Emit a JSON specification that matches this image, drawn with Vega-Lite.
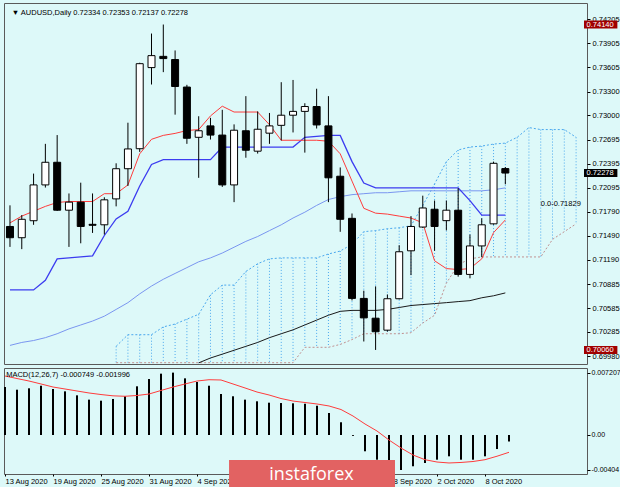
{
 "$schema": "https://vega.github.io/schema/vega-lite/v6.json",
 "background": "#ddf9f9",
 "padding": {"left": 2, "top": 2, "right": 0, "bottom": 0},
 "spacing": 2,
 "config": {
  "view": {"stroke": "#5a5a5a", "strokeWidth": 1},
  "font": "Liberation Sans",
  "axis": {"labelFont": "Liberation Sans", "labelFontSize": 7.5, "labelColor": "#000000", "tickColor": "#000000", "tickSize": 3, "domain": false, "grid": false, "title": null, "labelOverlap": false, "labelFlush": false, "labelBound": false}
 },
 "datasets": {
  "bars": [
   {"i":0,"o":0.71608,"h":0.71873,"l":0.71352,"c":0.71467,"tk":0.71653,"kj":0.70812,"ma":0.70117,"m":0.00554,"s":0.00681},
   {"i":1,"o":0.71467,"h":0.71751,"l":0.71324,"c":0.71698,"tk":0.71738,"kj":0.70812,"ma":0.70154,"m":0.00523,"s":0.00652},
   {"i":2,"o":0.7168,"h":0.72271,"l":0.71629,"c":0.72129,"tk":0.71799,"kj":0.70812,"ma":0.70178,"m":0.00539,"s":0.00623},
   {"i":3,"o":0.72129,"h":0.72644,"l":0.72096,"c":0.72413,"tk":0.7186,"kj":0.70934,"ma":0.70214,"m":0.00569,"s":0.00589},
   {"i":4,"o":0.72413,"h":0.72754,"l":0.71803,"c":0.71812,"tk":0.71909,"kj":0.71202,"ma":0.70263,"m":0.00531,"s":0.00554},
   {"i":5,"o":0.71812,"h":0.72022,"l":0.71352,"c":0.71913,"tk":0.71921,"kj":0.71214,"ma":0.70324,"m":0.00504,"s":0.00531},
   {"i":6,"o":0.71913,"h":0.72157,"l":0.71397,"c":0.71608,"tk":0.71921,"kj":0.71226,"ma":0.70373,"m":0.00458,"s":0.00508},
   {"i":7,"o":0.71635,"h":0.72022,"l":0.71527,"c":0.71623,"tk":0.71921,"kj":0.71239,"ma":0.70422,"m":0.00408,"s":0.00485},
   {"i":8,"o":0.71629,"h":0.71974,"l":0.71507,"c":0.71942,"tk":0.72019,"kj":0.71495,"ma":0.70483,"m":0.00396,"s":0.00467},
   {"i":9,"o":0.71954,"h":0.724,"l":0.7186,"c":0.72332,"tk":0.72019,"kj":0.71702,"ma":0.70568,"m":0.00416,"s":0.00452},
   {"i":10,"o":0.72332,"h":0.72909,"l":0.72116,"c":0.7258,"tk":0.72129,"kj":0.71799,"ma":0.70653,"m":0.00447,"s":0.00447},
   {"i":11,"o":0.72583,"h":0.73661,"l":0.72543,"c":0.73649,"tk":0.72519,"kj":0.72116,"ma":0.70763,"m":0.00562,"s":0.00456},
   {"i":12,"o":0.736,"h":0.74027,"l":0.73388,"c":0.7375,"tk":0.72701,"kj":0.72385,"ma":0.70861,"m":0.00646,"s":0.00473},
   {"i":13,"o":0.73741,"h":0.7414,"l":0.73543,"c":0.73713,"tk":0.7275,"kj":0.72446,"ma":0.70946,"m":0.00708,"s":0.00514},
   {"i":14,"o":0.73701,"h":0.73815,"l":0.7301,"c":0.73363,"tk":0.72775,"kj":0.72446,"ma":0.71019,"m":0.0072,"s":0.00554},
   {"i":15,"o":0.73356,"h":0.73384,"l":0.72644,"c":0.72714,"tk":0.72811,"kj":0.72446,"ma":0.71092,"m":0.00654,"s":0.00589},
   {"i":16,"o":0.72726,"h":0.7299,"l":0.72218,"c":0.72808,"tk":0.72823,"kj":0.72446,"ma":0.71165,"mb":0.69898,"m":0.00612,"s":0.00623},
   {"i":17,"o":0.72869,"h":0.7297,"l":0.72698,"c":0.72754,"tk":0.72994,"kj":0.72446,"ma":0.71214,"mb":0.69959,"m":0.00569,"s":0.00638},
   {"i":18,"o":0.72754,"h":0.73071,"l":0.72104,"c":0.72129,"tk":0.73116,"kj":0.72604,"ma":0.71275,"mb":0.70007,"m":0.00473,"s":0.00635},
   {"i":19,"o":0.72129,"h":0.72888,"l":0.71913,"c":0.72815,"tk":0.73043,"kj":0.72604,"ma":0.71348,"mb":0.70056,"m":0.00447,"s":0.00589},
   {"i":20,"o":0.72808,"h":0.73242,"l":0.7247,"c":0.72564,"tk":0.73043,"kj":0.72604,"ma":0.71421,"mb":0.70105,"m":0.00408,"s":0.00543},
   {"i":21,"o":0.72552,"h":0.73051,"l":0.72522,"c":0.72827,"tk":0.73043,"kj":0.72604,"ma":0.71482,"mb":0.70154,"m":0.00389,"s":0.00496},
   {"i":22,"o":0.72778,"h":0.73031,"l":0.72644,"c":0.72869,"tk":0.72884,"kj":0.72604,"ma":0.71556,"mb":0.70214,"m":0.00373,"s":0.00462},
   {"i":23,"o":0.72876,"h":0.73417,"l":0.72686,"c":0.73003,"tk":0.72689,"kj":0.72604,"ma":0.71629,"mb":0.70263,"m":0.00369,"s":0.00421},
   {"i":24,"o":0.73003,"h":0.73445,"l":0.72787,"c":0.73051,"tk":0.72689,"kj":0.72604,"ma":0.71714,"mb":0.70312,"m":0.00366,"s":0.00392},
   {"i":25,"o":0.73051,"h":0.73153,"l":0.72534,"c":0.73112,"tk":0.72689,"kj":0.72726,"ma":0.71787,"mb":0.70373,"m":0.00361,"s":0.00375},
   {"i":26,"o":0.73112,"h":0.73335,"l":0.72836,"c":0.72881,"tk":0.72689,"kj":0.72738,"ma":0.71872,"mb":0.70434,"m":0.00338,"s":0.00358},
   {"i":27,"o":0.72869,"h":0.73242,"l":0.71913,"c":0.72218,"tk":0.72677,"kj":0.7275,"ma":0.71946,"mb":0.70495,"m":0.00254,"s":0.00335},
   {"i":28,"o":0.72238,"h":0.72348,"l":0.71541,"c":0.71698,"tk":0.72519,"kj":0.7275,"ma":0.71982,"mb":0.70544,"m":0.00147,"s":0.00294},
   {"i":29,"o":0.7171,"h":0.71771,"l":0.70681,"c":0.70706,"tk":0.72177,"kj":0.72421,"ma":0.72007,"mb":0.70556,"m":-0.0001,"s":0.00219},
   {"i":30,"o":0.70706,"h":0.70803,"l":0.70166,"c":0.70462,"tk":0.71836,"kj":0.72153,"ma":0.72019,"mb":0.70556,"m":-0.00188,"s":0.00127},
   {"i":31,"o":0.70458,"h":0.70857,"l":0.7006,"c":0.70288,"tk":0.71775,"kj":0.72092,"ma":0.72031,"mb":0.70556,"m":-0.00285,"s":0.00046},
   {"i":32,"o":0.70308,"h":0.70755,"l":0.7029,"c":0.70702,"tk":0.71763,"kj":0.72092,"ma":0.72031,"mb":0.70568,"m":-0.00304,"s":-0.00058},
   {"i":33,"o":0.70702,"h":0.71373,"l":0.70694,"c":0.71291,"tk":0.71738,"kj":0.72092,"ma":0.72043,"mb":0.70592,"m":-0.00404,"s":-0.0015},
   {"i":34,"o":0.71303,"h":0.71738,"l":0.70998,"c":0.71608,"tk":0.71714,"kj":0.72092,"ma":0.72055,"mb":0.70617,"m":-0.00361,"s":-0.00231},
   {"i":35,"o":0.71601,"h":0.71994,"l":0.7159,"c":0.7184,"tk":0.71653,"kj":0.72092,"ma":0.72055,"mb":0.70629,"m":-0.00323,"s":-0.00285},
   {"i":36,"o":0.71824,"h":0.71933,"l":0.71303,"c":0.71608,"tk":0.71178,"kj":0.72092,"ma":0.72055,"mb":0.70641,"m":-0.00285,"s":-0.00312},
   {"i":37,"o":0.71681,"h":0.71933,"l":0.71559,"c":0.71812,"tk":0.7108,"kj":0.72092,"ma":0.72055,"mb":0.70653,"m":-0.00246,"s":-0.00323},
   {"i":38,"o":0.71812,"h":0.72088,"l":0.70979,"c":0.71007,"tk":0.71068,"kj":0.72092,"ma":0.72055,"mb":0.70666,"m":-0.00285,"s":-0.00317},
   {"i":39,"o":0.71007,"h":0.71507,"l":0.70958,"c":0.71364,"tk":0.7108,"kj":0.71933,"ma":0.72055,"mb":0.70678,"m":-0.00285,"s":-0.00306},
   {"i":40,"o":0.71364,"h":0.7171,"l":0.71223,"c":0.71629,"tk":0.71202,"kj":0.71751,"ma":0.72055,"mb":0.70714,"m":-0.00246,"s":-0.00285},
   {"i":41,"o":0.71641,"h":0.72421,"l":0.7163,"c":0.724,"tk":0.71531,"kj":0.71751,"ma":0.72068,"mb":0.70739,"m":-0.00162,"s":-0.00245},
   {"i":42,"o":0.72334,"h":0.72353,"l":0.72137,"c":0.72278,"tk":0.7169,"kj":0.71751,"ma":0.72092,"mb":0.70775,"m":-0.000749,"s":-0.001996}
  ],
  "cloud": [
   {"i":9,"a":0.70105,"b":0.699},{"i":10,"a":0.70251,"b":0.699},{"i":11,"a":0.70251,"b":0.699},
   {"i":12,"a":0.70251,"b":0.699},{"i":13,"a":0.70349,"b":0.699},{"i":14,"a":0.70385,"b":0.699},
   {"i":15,"a":0.70446,"b":0.699},{"i":16,"a":0.70507,"b":0.699},{"i":17,"a":0.70751,"b":0.699},
   {"i":18,"a":0.70873,"b":0.699},{"i":19,"a":0.70873,"b":0.699},{"i":20,"a":0.71044,"b":0.699},
   {"i":21,"a":0.71141,"b":0.699},{"i":22,"a":0.71202,"b":0.699},{"i":23,"a":0.71214,"b":0.699},
   {"i":24,"a":0.71214,"b":0.699},{"i":25,"a":0.71214,"b":0.70093},{"i":26,"a":0.71214,"b":0.70093},
   {"i":27,"a":0.71263,"b":0.70093},{"i":28,"a":0.713,"b":0.70129},{"i":29,"a":0.71385,"b":0.7019},
   {"i":30,"a":0.71543,"b":0.70263},{"i":31,"a":0.71556,"b":0.70263},{"i":32,"a":0.7158,"b":0.70263},
   {"i":33,"a":0.71592,"b":0.70263},{"i":34,"a":0.71617,"b":0.70276},{"i":35,"a":0.71872,"b":0.70397},
   {"i":36,"a":0.72141,"b":0.70495},{"i":37,"a":0.72421,"b":0.70897},{"i":38,"a":0.72567,"b":0.71129},
   {"i":39,"a":0.72604,"b":0.71202},{"i":40,"a":0.72616,"b":0.71226},{"i":41,"a":0.72641,"b":0.71226},
   {"i":42,"a":0.72653,"b":0.71226},{"i":43,"a":0.72726,"b":0.71226},{"i":44,"a":0.72848,"b":0.71226},
   {"i":45,"a":0.72823,"b":0.71226},{"i":46,"a":0.72823,"b":0.71446},{"i":47,"a":0.72823,"b":0.71543},
   {"i":48,"a":0.72726,"b":0.71641}
  ],
  "tags": [
   {"p":0.7414,"t":"0.74140"},
   {"p":0.72278,"t":"0.72278"},
   {"p":0.7006,"t":"0.70060"}
  ]
 },
 "vconcat": [
  {
   "width": 583,
   "height": 361,
   "layer": [
    {
     "data": {"name": "cloud"},
     "mark": {"type": "rule", "color": "#4aa8ee", "strokeDash": [1, 2], "strokeWidth": 1, "clip": true},
     "encoding": {
      "x": {"field": "i", "type": "quantitative", "scale": {"domain": [-0.0833, 48.5], "nice": false, "zero": false}, "axis": null},
      "y": {"field": "a", "type": "quantitative", "scale": {"domain": [0.699464, 0.743472], "nice": false, "zero": false},
            "axis": {"orient": "right", "values": [0.74205, 0.73905, 0.73605, 0.733, 0.73, 0.72695, 0.72395, 0.72095, 0.7179, 0.7149, 0.7119, 0.70885, 0.70585, 0.70285, 0.6998], "tickCount": 30, "format": ".5f", "labelPadding": 2, "labelOverlap": false, "labelFontSize": 7.5}},
      "y2": {"field": "b"}
     }
    },
    {
     "data": {"name": "cloud"},
     "mark": {"type": "line", "color": "#4aa8ee", "strokeDash": [2, 2], "strokeWidth": 1, "clip": true},
     "encoding": {"x": {"field": "i", "type": "quantitative"}, "y": {"field": "a", "type": "quantitative"}}
    },
    {
     "data": {"name": "cloud"},
     "mark": {"type": "line", "color": "#c09090", "strokeDash": [2, 2], "strokeWidth": 1, "clip": true},
     "encoding": {"x": {"field": "i", "type": "quantitative"}, "y": {"field": "b", "type": "quantitative"}}
    },
    {
     "mark": {"type": "rule", "color": "#c2dada", "strokeWidth": 1},
     "encoding": {"y": {"datum": 0.72278, "type": "quantitative"}}
    },
    {
     "mark": {"type": "rule", "color": "#000000", "strokeDash": [2, 2], "strokeWidth": 1},
     "encoding": {"x": {"datum": 13, "type": "quantitative"}}
    },
    {
     "mark": {"type": "rule", "color": "#000000", "strokeDash": [2, 2], "strokeWidth": 1},
     "encoding": {"x": {"datum": 35, "type": "quantitative"}}
    },
    {
     "mark": {"type": "rule", "color": "#777777", "strokeWidth": 1.5},
     "encoding": {"y": {"datum": 0.71829, "type": "quantitative"}}
    },
    {
     "data": {"name": "bars"},
     "mark": {"type": "line", "color": "#7a96f0", "strokeWidth": 1, "clip": true},
     "encoding": {"x": {"field": "i", "type": "quantitative"}, "y": {"field": "ma", "type": "quantitative"}}
    },
    {
     "data": {"name": "bars"},
     "mark": {"type": "line", "color": "#1a1a1a", "strokeWidth": 1, "clip": true},
     "encoding": {"x": {"field": "i", "type": "quantitative"}, "y": {"field": "mb", "type": "quantitative"}}
    },
    {
     "data": {"name": "bars"},
     "mark": {"type": "line", "color": "#3c3cf0", "strokeWidth": 1.3, "clip": true},
     "encoding": {"x": {"field": "i", "type": "quantitative"}, "y": {"field": "kj", "type": "quantitative"}}
    },
    {
     "data": {"name": "bars"},
     "mark": {"type": "line", "color": "#ff3c3c", "strokeWidth": 1, "clip": true},
     "encoding": {"x": {"field": "i", "type": "quantitative"}, "y": {"field": "tk", "type": "quantitative"}}
    },
    {
     "mark": {"type": "rule", "color": "#a00000", "strokeWidth": 2},
     "encoding": {"y": {"datum": 0.7414, "type": "quantitative"}}
    },
    {
     "mark": {"type": "rule", "color": "#a00000", "strokeWidth": 2},
     "encoding": {"y": {"datum": 0.7006, "type": "quantitative"}}
    },
    {
     "data": {"name": "bars"},
     "mark": {"type": "rule", "color": "#000000", "strokeWidth": 1},
     "encoding": {"x": {"field": "i", "type": "quantitative"}, "y": {"field": "l", "type": "quantitative"}, "y2": {"field": "h"}}
    },
    {
     "data": {"name": "bars"},
     "mark": {"type": "bar", "width": 7, "stroke": "#000000", "strokeWidth": 1},
     "encoding": {
      "x": {"field": "i", "type": "quantitative"},
      "y": {"field": "o", "type": "quantitative"},
      "y2": {"field": "c"},
      "fill": {"condition": {"test": "datum.c > datum.o", "value": "#ffffff"}, "value": "#000000"}
     }
    },
    {
     "data": {"values": [{"t": "0.0-0.71829"}]},
     "mark": {"type": "text", "align": "right", "baseline": "bottom", "dy": -1, "fontSize": 7.5, "color": "#000000"},
     "encoding": {"x": {"datum": 48.4, "type": "quantitative"}, "y": {"datum": 0.71829, "type": "quantitative"}, "text": {"field": "t"}}
    },
    {
     "data": {"values": [{"t": "▼ AUDUSD,Daily  0.72334 0.72353 0.72137 0.72278"}]},
     "mark": {"type": "text", "align": "left", "baseline": "middle", "fontSize": 7.5, "color": "#000000"},
     "encoding": {"x": {"datum": 0.15, "type": "quantitative"}, "y": {"datum": 0.74285, "type": "quantitative"}, "text": {"field": "t"}}
    },
    {
     "data": {"name": "tags"},
     "mark": {"type": "bar", "height": 8, "clip": false},
     "encoding": {
      "x": {"datum": 48.67, "type": "quantitative"},
      "x2": {"datum": 51.5},
      "y": {"field": "p", "type": "quantitative"},
      "color": {"condition": {"test": "datum.t == '0.72278'", "value": "#000000"}, "value": "#a00000"}
     }
    },
    {
     "data": {"name": "tags"},
     "mark": {"type": "text", "align": "center", "baseline": "middle", "fontSize": 7.5, "color": "#ffffff", "clip": false},
     "encoding": {"x": {"datum": 50.04, "type": "quantitative"}, "y": {"field": "p", "type": "quantitative"}, "text": {"field": "t"}}
    }
   ]
  },
  {
   "width": 583,
   "height": 106,
   "layer": [
    {
     "data": {"name": "bars"},
     "mark": {"type": "rule", "color": "#000000", "strokeWidth": 2},
     "encoding": {
      "x": {"field": "i", "type": "quantitative", "scale": {"domain": [-0.0833, 48.5], "nice": false, "zero": false},
            "axis": {"orient": "bottom", "values": [0, 4, 8, 12, 16, 32, 36, 40], "tickCount": 30, "labelAlign": "left", "labelPadding": 1, "tickSize": 2, "labelOverlap": false,
                     "labelExpr": "['13 Aug 2020','19 Aug 2020','25 Aug 2020','31 Aug 2020','4 Sep 2020','10 Sep 2020','16 Sep 2020','22 Sep 2020','28 Sep 2020','2 Oct 2020','8 Oct 2020'][round(datum.value/4)]"}},
      "y": {"field": "m", "type": "quantitative", "scale": {"domain": [-0.004502, 0.007734], "nice": false, "zero": false},
            "axis": {"orient": "right", "values": [0.007207, 0, -0.00404], "labelPadding": 1, "labelFontSize": 7, "labelOverlap": false,
                     "labelExpr": "datum.value == 0 ? '0.00' : (datum.value > 0 ? '0.007207' : '-0.00404')"}},
      "y2": {"datum": 0}
     }
    },
    {
     "mark": {"type": "rule", "color": "#000000", "strokeDash": [2, 2], "strokeWidth": 1},
     "encoding": {"x": {"datum": 13, "type": "quantitative"}}
    },
    {
     "mark": {"type": "rule", "color": "#000000", "strokeDash": [2, 2], "strokeWidth": 1},
     "encoding": {"x": {"datum": 35, "type": "quantitative"}}
    },
    {
     "data": {"name": "bars"},
     "mark": {"type": "line", "color": "#ff3c3c", "strokeWidth": 1},
     "encoding": {"x": {"field": "i", "type": "quantitative"}, "y": {"field": "s", "type": "quantitative"}}
    },
    {
     "data": {"values": [{"t": "MACD(12,26,7) -0.000749 -0.001996"}]},
     "mark": {"type": "text", "align": "left", "baseline": "middle", "fontSize": 7.5, "color": "#000000"},
     "encoding": {"x": {"datum": 0.1, "type": "quantitative"}, "y": {"datum": 0.00693, "type": "quantitative"}, "text": {"field": "t"}}
    },
    {
     "data": {"values": [{"t": "instaforex"}]},
     "mark": {"type": "rect", "color": "#e26262", "clip": false},
     "encoding": {"x": {"datum": 18.67, "type": "quantitative"}, "x2": {"datum": 32.5}, "y": {"datum": -0.00289, "type": "quantitative"}, "y2": {"datum": -0.00635}}
    },
    {
     "data": {"values": [{"t": "instaforex"}]},
     "mark": {"type": "text", "align": "center", "baseline": "middle", "font": "Open Sans", "fontSize": 18, "color": "#ffffff", "clip": false},
     "encoding": {"x": {"datum": 25.54, "type": "quantitative"}, "y": {"datum": -0.00466, "type": "quantitative"}, "text": {"field": "t"}}
    }
   ]
  }
 ]
}
